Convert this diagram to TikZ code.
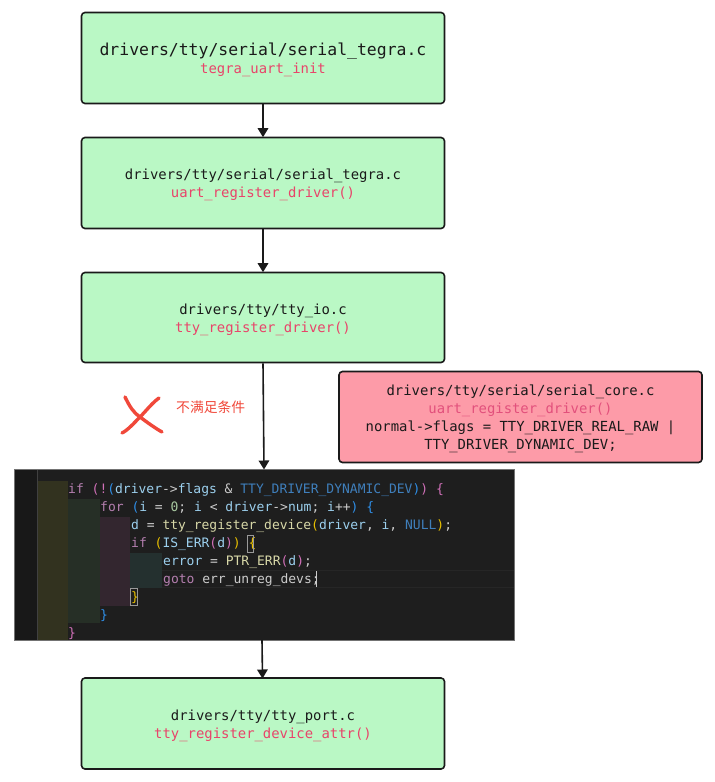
\documentclass[tikz,border=0pt]{standalone}
\usepackage{fontspec}
\newfontfamily\monof{DejaVu Sans Mono}
\newfontfamily\cjkf{Noto Sans CJK SC}
\usetikzlibrary{arrows.meta}
\definecolor{boxgreen}{HTML}{BAF8C5}
\definecolor{boxred}{HTML}{FD9BA8}
\definecolor{fnred}{HTML}{E8446A}
\definecolor{fnredb}{HTML}{E2507C}
\definecolor{ink}{HTML}{1A1A1A}
\definecolor{crossred}{HTML}{F0483A}
\definecolor{edbg}{HTML}{1E1E1E}
\definecolor{gut}{HTML}{181818}
\definecolor{kw}{HTML}{B57FB0}
\definecolor{vr}{HTML}{9CD0EE}
\definecolor{cs}{HTML}{3F7FBC}
\definecolor{fn}{HTML}{D8D8A8}
\definecolor{tx}{HTML}{CCCCCC}
\definecolor{nm}{HTML}{A8C8A0}
\definecolor{pa}{HTML}{D070B8}
\definecolor{pb}{HTML}{2F8FE8}
\definecolor{pc}{HTML}{E8C000}
\definecolor{bandy}{HTML}{32321F}
\definecolor{bandg}{HTML}{262F26}
\definecolor{bandm}{HTML}{33262F}
\definecolor{bandc}{HTML}{24302F}
\definecolor{curline}{HTML}{262626}
\newcommand{\fnr}[1]{\textcolor{fnred}{#1}}
\newcommand{\cc}[2]{\textcolor{#1}{#2}}
\newcommand{\topgap}{\rule{0pt}{15pt}}
\tikzset{
  every node/.style={font=\monof},
  flowbox/.style={draw=ink,line width=1.6pt,rounded corners=3.5pt,fill=boxgreen,minimum width=363pt,align=center,inner sep=0pt,text=ink,font=\monof\fontsize{13.9}{18}\selectfont},
  flow/.style={draw=ink,line width=1.6pt,-{Triangle[length=9pt,width=10.5pt]},shorten >=-0.5pt},
  codeline/.style={anchor=base west,inner sep=0pt,text=tx,font=\monof\fontsize{13}{13}\selectfont},
  cross/.style={draw=crossred,line width=3.4pt,line cap=round},
  fold/.style={draw=#1,line width=0.7pt,fill=none}
}
\begin{document}
\begin{tikzpicture}[x=1pt,y=-1pt]
\useasboundingbox (0,0) rectangle (715,782);
% boxes
\node[flowbox,minimum height=91pt,font=\monof\fontsize{16.45}{19}\selectfont] (a) at (263,58) {\rule{0pt}{17pt}drivers/tty/serial/serial\_tegra.c\\[-1pt]\fontsize{13.9}{18}\selectfont\fnr{tegra\_uart\_init}};
\node[flowbox,minimum height=91pt] (b) at (263,183) {\topgap drivers/tty/serial/serial\_tegra.c\\\fnr{uart\_register\_driver()}};
\node[flowbox,minimum height=90pt] (c) at (263,317.5) {\topgap drivers/tty/tty\_io.c\\\fnr{tty\_register\_driver()}};
\node[flowbox,minimum height=91pt,fill=boxred] (r) at (520.5,417) {\topgap drivers/tty/serial/serial\_core.c\\\textcolor{fnredb}{uart\_register\_driver()}\\normal->flags = TTY\_DRIVER\_REAL\_RAW |\\TTY\_DRIVER\_DYNAMIC\_DEV;};
\node[flowbox,minimum height=91pt] (d) at (263,723.5) {\topgap drivers/tty/tty\_port.c\\\fnr{tty\_register\_device\_attr()}};
% code panel
\node[draw=black!55!white,line width=0.6pt,fill=edbg,minimum width=500pt,minimum height=171pt,inner sep=0pt] (code) at (264,554.5) {};
\fill[gut] (14.5,469.5) rectangle (37,639.5);
\fill[curline] (37,570) rectangle (514,588);
\fill[edbg] (37,571) rectangle (514,587);
\fill[black!75!white] (37,469.5) rectangle (37.6,639.5);
\fill[bandy] (37.6,481) rectangle (68,639.5);
\fill[bandg] (68,499) rectangle (100,623);
\fill[bandm] (100,517) rectangle (130,606);
\fill[bandc] (130,553) rectangle (162,588);
\node[codeline] (l1) at (68,493) {\cc{kw}{if} \cc{pa}{(!}\cc{pb}{(}\cc{vr}{driver}->\cc{vr}{flags} \& \cc{cs}{TTY\_DRIVER\_DYNAMIC\_DEV}\cc{pb}{)}\cc{pa}{)} \cc{pa}{\{}};
\node[codeline] (l2) at (100,511) {\cc{kw}{for} \cc{pb}{(}\cc{vr}{i} = \cc{nm}{0}; \cc{vr}{i} < \cc{vr}{driver}->\cc{vr}{num}; \cc{vr}{i}++\cc{pb}{)} \cc{pb}{\{}};
\node[codeline] (l3) at (131,529) {\cc{vr}{d} = \cc{fn}{tty\_register\_device}\cc{pc}{(}\cc{vr}{driver}, \cc{vr}{i}, \cc{cs}{NULL}\cc{pc}{)};};
\node[codeline] (l4) at (131,547) {\cc{kw}{if} \cc{pc}{(}\cc{vr}{IS\_ERR}\cc{pa}{(}\cc{vr}{d}\cc{pa}{)}\cc{pc}{)} \cc{pc}{\{}};
\node[codeline] (l5) at (163,565) {\cc{vr}{error} = \cc{fn}{PTR\_ERR}\cc{pa}{(}\cc{vr}{d}\cc{pa}{)};};
\node[codeline] (l6) at (163,583) {\cc{kw}{goto} \cc{tx}{err\_unreg\_devs};};
\node[codeline] (l7) at (131,601) {\cc{pc}{\}}};
\node[codeline] (l8) at (100,619) {\cc{pb}{\}}};
\node[codeline] (l9) at (68,637) {\cc{pa}{\}}};
\draw[fold=black!40!white] (247,535.5) rectangle (253.5,552);
\draw[fold=black!40!white] (130.5,588.5) rectangle (137,605);
\fill[tx] (315.5,571) rectangle (316.5,587);
% connectors
\draw[flow] (a) -- (b);
\draw[flow] (b) -- (c);
\coordinate (codetop) at (264,469);
\draw[flow] (c.south) -- (codetop);
\coordinate (codebot) at (262,640);
\coordinate (dtop) at (262.5,678);
\draw[flow] (codebot) -- (dtop);
% cross
\draw[cross] (125,397) .. controls (130,407) and (133,412) .. (140,417) .. controls (148,423) and (155,428) .. (162,432);
\draw[cross] (159,398) .. controls (152,403) and (146,411) .. (140,417) .. controls (134,423) and (128,430) .. (122,433);
\node[anchor=west,inner sep=0pt,text=crossred,font=\cjkf\fontsize{13.8}{14}\selectfont] (lbl) at (176,407) {不满足条件};
\end{tikzpicture}
\end{document}
